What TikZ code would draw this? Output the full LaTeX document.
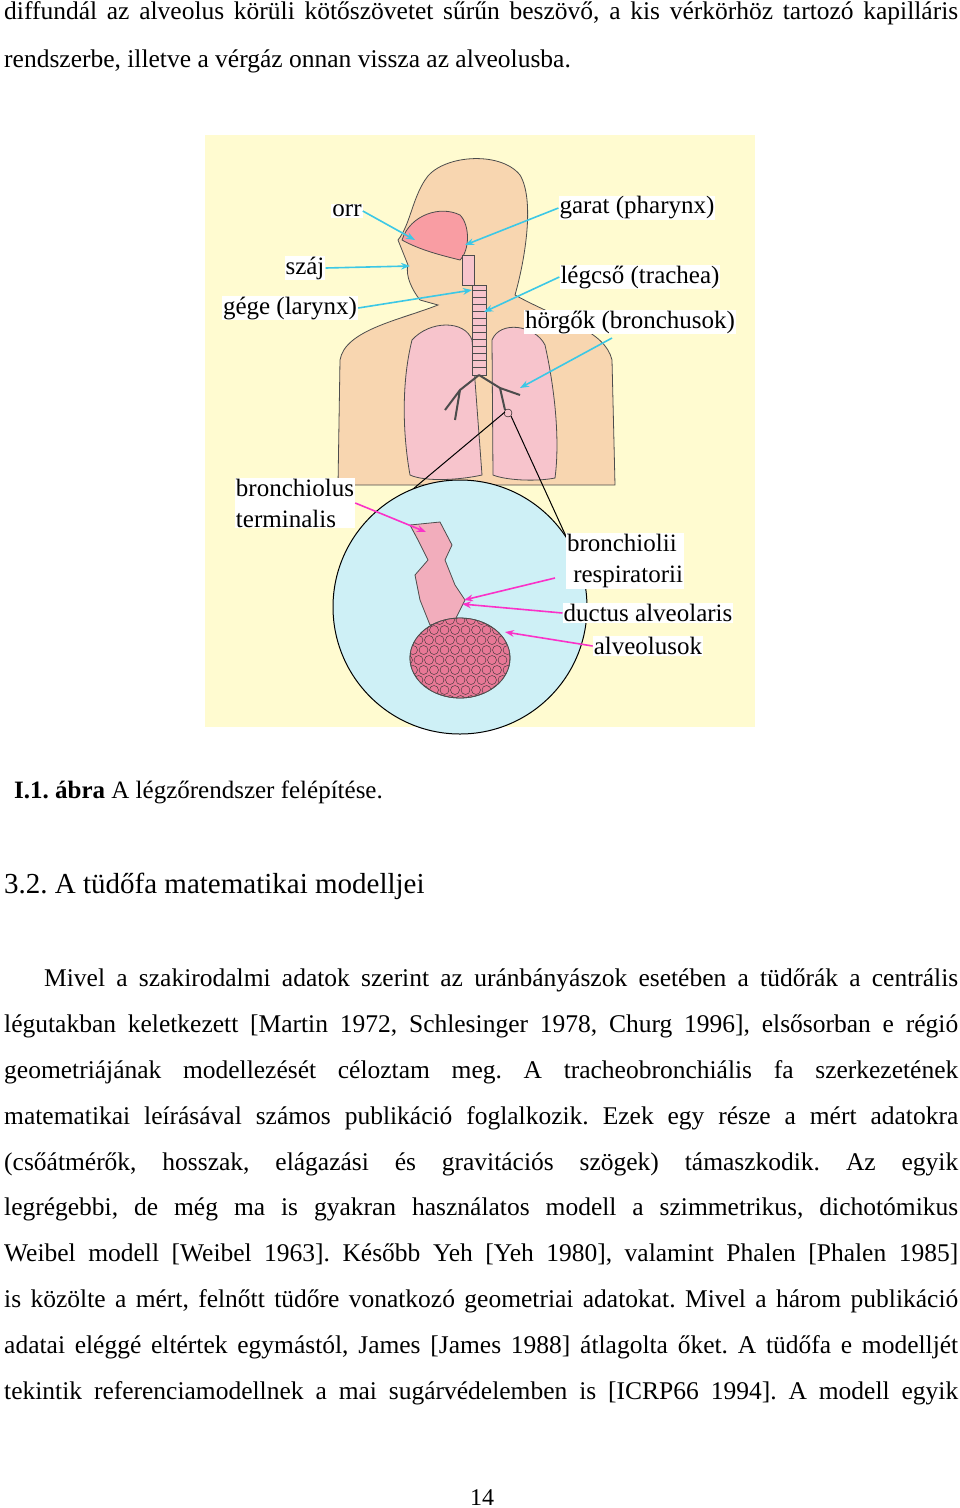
\documentclass[tikz,border=0pt]{standalone}
\usepackage{fontspec}
\setmainfont{Liberation Serif}
\usetikzlibrary{positioning,arrows.meta}
\definecolor{paper}{RGB}{255,251,208}
\definecolor{skin}{RGB}{248,214,176}
\definecolor{lung}{RGB}{247,196,204}
\definecolor{lens}{RGB}{206,240,246}
\definecolor{alv}{RGB}{232,120,150}
\definecolor{cyanarrow}{RGB}{60,200,230}
\definecolor{pinkarrow}{RGB}{250,50,200}
\tikzset{lbl/.style={fill=white, inner sep=1pt, font=\fontsize{25}{28}\selectfont},
  cyarr/.style={cyanarrow, line width=1.6pt, -{Stealth[length=9pt]}},
  pkarr/.style={pinkarrow, line width=1.6pt, -{Stealth[length=9pt]}},
  organ/.style={draw=black!70, line width=0.8pt}}
\frenchspacing
\begin{document}
\begin{tikzpicture}[x=1pt,y=-1pt]
\useasboundingbox (0,0) rectangle (960,1508);
\fontsize{24}{28}\selectfont
% text above
\node (intro)[anchor=north west, inner sep=0pt, text width=954pt, align=justify, font=\fontsize{25.5}{48}\selectfont] at (4,1)
{diffundál az alveolus körüli kötőszövetet sűrűn beszövő, a kis vérkörhöz tartozó kapilláris\linebreak
rendszerbe, illetve a vérgáz onnan vissza az alveolusba.};
% figure
\fill[paper] (205,135) rectangle (755,727);
\fill[organ, fill=skin] (338,485) -- (340,360) .. controls (345,330) and (400,320) .. (438,305)
  -- (420,300) .. controls (412,290) and (405,275) .. (408,265) -- (398,240)
  .. controls (410,225) and (412,200) .. (425,180) .. controls (440,155) and (500,150) .. (520,175)
  .. controls (535,200) and (525,260) .. (515,295) .. controls (560,320) and (605,330) .. (612,360)
  -- (615,485) -- cycle;
\fill[organ, fill=lung] (412,340) .. controls (430,320) and (465,320) .. (472,340) -- (482,475)
  .. controls (460,480) and (425,482) .. (410,475) .. controls (402,430) and (402,380) .. (412,340) -- cycle;
\fill[organ, fill=lung] (492,340) .. controls (500,320) and (535,325) .. (545,345)
  .. controls (555,390) and (560,440) .. (555,478) .. controls (535,482) and (505,480) .. (493,475) -- cycle;
\fill[organ, fill=lung!80!red] (402,240) .. controls (410,215) and (440,205) .. (460,215)
  .. controls (470,225) and (470,250) .. (460,260) .. controls (440,255) and (420,250) .. (402,240) -- cycle;
\fill[organ, fill=lung] (462,255) rectangle (474,285);
\fill[organ, fill=lung] (472,285) rectangle (486,375);
\foreach \r in {290,297,...,370} \draw[black!70] (472,\r) -- (486,\r);
\draw[organ, line width=2pt] (479,375) -- (460,390) -- (445,410) (460,390) -- (455,420)
  (479,375) -- (500,388) -- (520,395) (500,388) -- (505,410);
\draw[black] (508,413) circle (4);
% magnifier
\draw[black, line width=1pt] (505,412) -- (376,520) (511,416) -- (586,580);
\fill[draw=black, line width=1pt, fill=lens] (460,607) circle (127);
\fill[organ, fill=lung!70!alv] (410,525) -- (440,522) -- (452,545) -- (445,560) -- (455,585) -- (465,600)
  -- (455,620) -- (430,625) -- (420,600) -- (415,575) -- (428,560) -- (418,540) -- cycle;
\fill[organ, fill=alv] (460,658) ellipse (50 and 40);
\begin{scope}
\clip (460,658) ellipse (50 and 40);
\foreach \i in {0,...,9} \foreach \j in {0,...,8}
  \draw[black!80, fill=alv] ({408+\i*10.5+mod(\j,2)*5},{620+\j*10}) circle (4.5);
\end{scope}
\draw[organ] (460,658) ellipse (50 and 40);
% labels
\node (orr)[lbl] at (347,211) {orr};
\node (garat)[lbl] at (637,208) {garat (pharynx)};
\node (szaj)[lbl] at (305,268) {száj};
\node (legcso)[lbl] at (640,277) {légcső (trachea)};
\node (gege)[lbl] at (290,308) {gége (larynx)};
\node (horgok)[lbl] at (630,322) {hörgők (bronchusok)};
\node (bterm)[lbl, align=left, font=\fontsize{25}{31}\selectfont] at (295,503) {bronchiolus\\terminalis};
\node (bresp)[lbl, align=left, font=\fontsize{25}{31}\selectfont] at (625,561) {bronchiolii\\\ respiratorii};
\node (ductus)[lbl] at (648,613) {ductus alveolaris};
\node (alveol)[lbl] at (648,646) {alveolusok};
\coordinate (nose) at (415,240);
\draw[cyarr] (orr.east) -- (nose);
\draw[cyarr] (garat.west) -- (465,245);
\draw[cyarr] (szaj.east) -- (410,266);
\draw[cyarr] (legcso.west) -- (484,312);
\draw[cyarr] (gege.east) -- (472,290);
\draw[cyarr] (612,338) -- (520,388);
\draw[pkarr] (bterm.east) -- (426,532);
\draw[pkarr] (555,578) -- (464,600);
\draw[pkarr] (ductus.west) -- (462,604);
\draw[pkarr] (alveol.west) -- (505,632);
% caption and text
\node (caption)[anchor=base west, inner sep=0pt] at (14,798) {\fontsize{25}{28}\selectfont\textbf{I.1. ábra} A légzőrendszer felépítése.};
\node (heading)[anchor=base west, inner sep=0pt, font=\fontsize{29}{32}\selectfont] at (4,893) {3.2. A tüdőfa matematikai modelljei};
\node (para)[anchor=north west, inner sep=0pt, text width=954pt, align=justify, font=\fontsize{25.5}{45.8}\selectfont] at (4,969)
{\hspace*{40pt}Mivel a szakirodalmi adatok szerint az uránbányászok esetében a tüdőrák a centrális\linebreak
légutakban keletkezett [Martin 1972, Schlesinger 1978, Churg 1996], elsősorban e régió\linebreak
geometriájának modellezését céloztam meg. A tracheobronchiális fa szerkezetének\linebreak
matematikai leírásával számos publikáció foglalkozik. Ezek egy része a mért adatokra\linebreak
(csőátmérők, hosszak, elágazási és gravitációs szögek) támaszkodik. Az egyik\linebreak
legrégebbi, de még ma is gyakran használatos modell a szimmetrikus, dichotómikus\linebreak
Weibel modell [Weibel 1963]. Később Yeh [Yeh 1980], valamint Phalen [Phalen 1985]\linebreak
is közölte a mért, felnőtt tüdőre vonatkozó geometriai adatokat. Mivel a három publikáció\linebreak
adatai eléggé eltértek egymástól, James [James 1988] átlagolta őket. A tüdőfa e modelljét\linebreak
tekintik referenciamodellnek a mai sugárvédelemben is [ICRP66 1994]. A modell egyik\linebreak\mbox{}};
\node (page)[anchor=base] at (482,1505) {14};
\end{tikzpicture}
\end{document}
